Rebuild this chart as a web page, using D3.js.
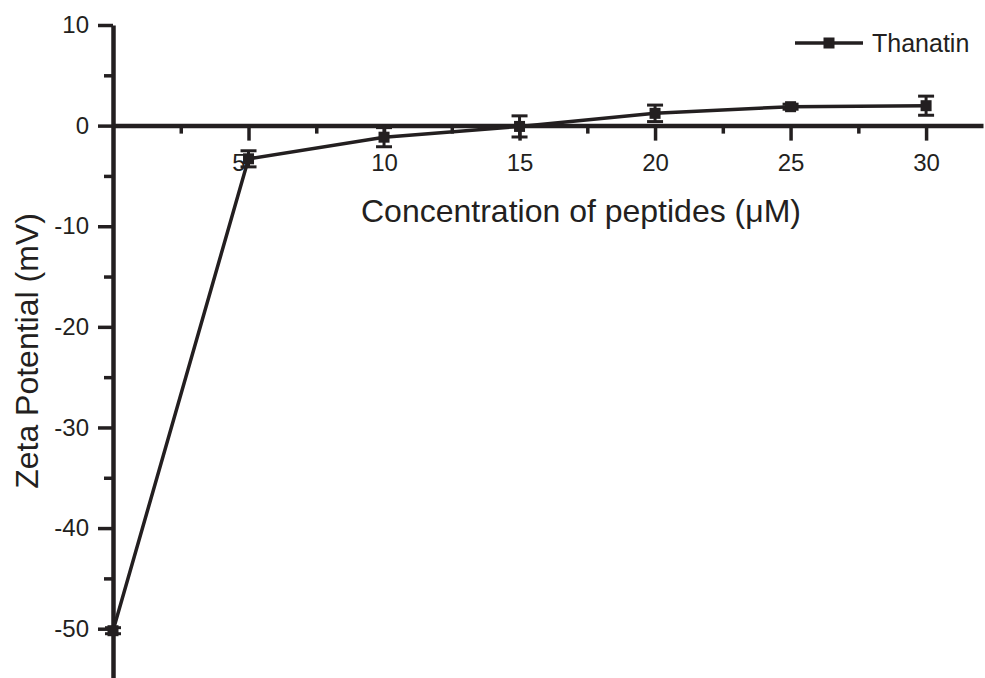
<!DOCTYPE html>
<html>
<head>
<meta charset="utf-8">
<script src="https://cdn.jsdelivr.net/npm/d3@7"></script>
<style>
  html, body { margin: 0; padding: 0; background: #fff; }
  svg { display: block; font-family: "Liberation Sans", Arial, sans-serif; }
</style>
</head>
<body>
<svg id="chart" width="985" height="678"></svg>
<script>
// values
var concentration = [0, 5, 10, 15, 20, 25, 30],
    zeta = [-50.2, -3.3, -1.15, -0.08, 1.22, 1.88, 1.98],
    zetaErr = [0.3, 0.8, 0.95, 1.05, 0.82, 0.25, 0.95],
    xTicks = [5, 10, 15, 20, 25, 30],
    xMinor = [2.5, 7.5, 12.5, 17.5, 22.5, 27.5],
    yTicks = [10, 0, -10, -20, -30, -40, -50],
    yMinor = [5, -5, -15, -25, -35, -45],
    seriesName = "Thanatin";

var ink = "#231f20";
var svg = d3.select("#chart");

var x = d3.scaleLinear().domain([0, 32.1]).range([113, 983]);
var y = d3.scaleLinear().domain([-54.9, 10]).range([678, 25]);

var data = concentration.map((c, i) => ({ c: c, v: zeta[i], e: zetaErr[i] }));

// plain hyphen for negatives, as in the original
var fmt = d => String(d);

// y axis (left, at x = 0)
svg.append("g")
    .attr("transform", "translate(" + x(0) + ",0)")
    .call(d3.axisLeft(y).tickValues(yTicks).tickSize(15).tickSizeOuter(0).tickPadding(9)
        .tickFormat(fmt));
svg.append("g")
    .attr("transform", "translate(" + x(0) + ",0)")
    .call(d3.axisLeft(y).tickValues(yMinor).tickSize(9).tickSizeOuter(0).tickFormat(""))
    .select(".domain").remove();

// x axis (crossing at zero)
var xAxis = svg.append("g")
    .attr("transform", "translate(0," + y(0) + ")")
    .call(d3.axisBottom(x).tickValues(xTicks).tickSize(15).tickSizeOuter(0).tickPadding(13)
        .tickFormat(fmt));
svg.append("g")
    .attr("transform", "translate(0," + y(0) + ")")
    .call(d3.axisBottom(x).tickValues(xMinor).tickSize(8).tickSizeOuter(0).tickFormat(""))
    .select(".domain").remove();

// the "5" label sits a little left of its tick in the original
xAxis.selectAll(".tick text").filter(d => d === 5).attr("dx", -10);

svg.selectAll(".domain").attr("stroke", ink).attr("stroke-width", 4.5);
svg.selectAll(".tick line").attr("stroke", ink).attr("stroke-width", 3.5);
svg.selectAll(".tick text").attr("fill", ink).style("font-size", "24px")
    .style("font-family", "'Liberation Sans', Arial, sans-serif");

// axis titles
svg.append("text")
    .attr("x", 581).attr("y", 222)
    .attr("text-anchor", "middle")
    .attr("fill", ink)
    .style("font-size", "32px")
    .text("Concentration of peptides (\u03bcM)");

svg.append("text")
    .attr("transform", "translate(38,351) rotate(-90)")
    .attr("text-anchor", "middle")
    .attr("fill", ink)
    .style("font-size", "32px")
    .text("Zeta Potential (mV)");

// series line
var line = d3.line().x(d => x(d.c)).y(d => y(d.v));
svg.append("path")
    .datum(data)
    .attr("d", line)
    .attr("fill", "none")
    .attr("stroke", ink)
    .attr("stroke-width", 3.5);

// error bars
var bars = svg.append("g").selectAll("g").data(data).join("g");
bars.append("line")
    .attr("x1", d => x(d.c)).attr("x2", d => x(d.c))
    .attr("y1", d => y(d.v - d.e)).attr("y2", d => y(d.v + d.e))
    .attr("stroke", ink).attr("stroke-width", 3);
bars.selectAll(".cap")
    .data(d => [{ c: d.c, v: d.v - d.e }, { c: d.c, v: d.v + d.e }])
    .join("line")
    .attr("class", "cap")
    .attr("x1", d => x(d.c) - 8).attr("x2", d => x(d.c) + 8)
    .attr("y1", d => y(d.v)).attr("y2", d => y(d.v))
    .attr("stroke", ink).attr("stroke-width", 3);

// markers
svg.append("g").selectAll("rect").data(data).join("rect")
    .attr("x", d => x(d.c) - 5.5).attr("y", d => y(d.v) - 5.5)
    .attr("width", 11).attr("height", 11)
    .attr("fill", ink);

// legend
var legend = svg.append("g").attr("transform", "translate(795,43)");
legend.append("line")
    .attr("x1", 0).attr("x2", 68).attr("y1", 0).attr("y2", 0)
    .attr("stroke", ink).attr("stroke-width", 3.5);
legend.append("rect")
    .attr("x", 34 - 5.5).attr("y", -5.5).attr("width", 11).attr("height", 11)
    .attr("fill", ink);
legend.append("text")
    .attr("x", 77).attr("y", 9)
    .attr("fill", ink)
    .style("font-size", "25px")
    .text(seriesName);
</script>
</body>
</html>
